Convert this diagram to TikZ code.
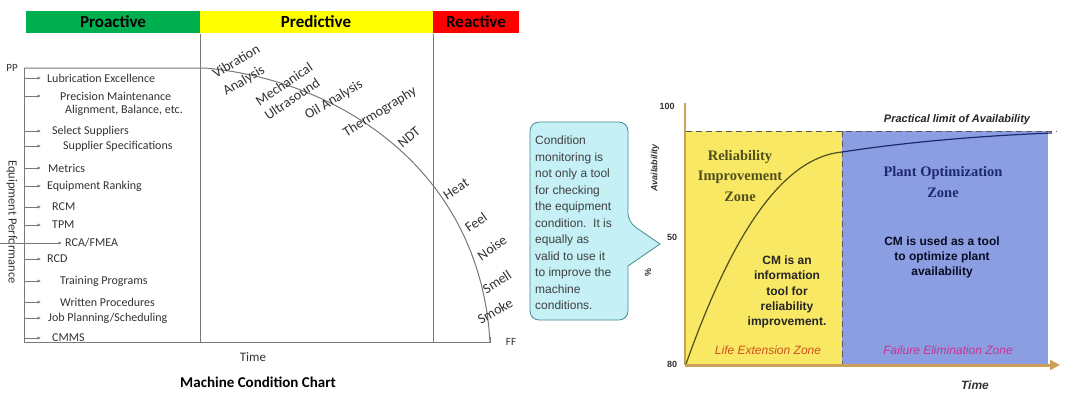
\documentclass[tikz,border=0pt]{standalone}
\usepackage{fontspec}
\setmainfont{Liberation Sans}
\newfontfamily\calfont{Carlito}
\newfontfamily\tnrfont{Liberation Serif}
\usetikzlibrary{arrows.meta}
\definecolor{pgreen}{RGB}{0,176,80}
\definecolor{pyellow}{RGB}{255,255,0}
\definecolor{pred}{RGB}{255,0,0}
\definecolor{lgray}{RGB}{120,120,120}
\definecolor{txtgray}{RGB}{50,50,50}
\definecolor{zyellow}{RGB}{248,232,100}
\definecolor{zblue}{RGB}{140,158,226}
\definecolor{axbrown}{RGB}{205,160,90}
\definecolor{cfill}{RGB}{196,240,246}
\definecolor{cborder}{RGB}{70,140,150}
\definecolor{olivec}{RGB}{80,80,30}
\definecolor{navyc}{RGB}{30,40,110}
\definecolor{lifec}{RGB}{210,80,30}
\definecolor{failc}{RGB}{200,50,150}
\begin{document}
\begin{tikzpicture}[x=1pt,y=-1pt,
  hdr/.style={font=\calfont\bfseries\fontsize{17}{17}\selectfont, inner sep=0pt},
  item/.style={font=\calfont\fontsize{12}{12}\selectfont, text=txtgray, anchor=west, inner sep=0pt},
  tech/.style={font=\calfont\fontsize{14}{14}\selectfont, text=txtgray, inner sep=0pt},
  gline/.style={draw=lgray, line width=1pt},
  itemarrow/.style={draw=lgray, line width=0.9pt, -{Latex[length=3.5pt,width=3.5pt]}},
  ylab/.style={font=\bfseries\fontsize{9}{9}\selectfont, text=txtgray, inner sep=0pt},
  zdash/.style={draw=black!65, line width=1pt, dash pattern=on 6pt off 4pt}
]
\useasboundingbox (0,0) rectangle (1067,392);

% ---------- left chart ----------
\fill[pgreen] (26,11) rectangle (200,33);
\fill[pyellow] (200,11) rectangle (433,33);
\fill[pred] (433,11) rectangle (519,33);
\node[hdr] (pro) at (113,22) {Proactive};
\node[hdr] (pre) at (316,22) {Predictive};
\node[hdr] (rea) at (476,22) {Reactive};

\coordinate (pp) at (24,68);
\coordinate (o1) at (24,342);
\coordinate (ff) at (490,342);
\coordinate (cs) at (205,68);
\draw[gline] (200,34) -- (200,342);
\draw[gline] (433,34) -- (433,342);
\draw[gline] (pp) -- (o1) -- (ff) -- ++(0,-5);
\draw[gline] (pp) -- (cs) .. controls (340,80) and (480,170) .. (ff);

\node[font=\calfont\fontsize{11}{11}\selectfont, text=txtgray] (ppl) at (12,68) {PP};
\node[font=\calfont\fontsize{11}{11}\selectfont, text=txtgray] (ffl) at (511,342) {FF};
\node[font=\calfont\fontsize{12.5}{12.5}\selectfont, text=txtgray, rotate=-90] (eqp) at (12,222) {Equipment Performance};

\foreach \i/\y/\x/\t in {1/78/47/Lubrication Excellence, 2/96/60/Precision Maintenance, 3/131/52/Select Suppliers, 4/146/63/Supplier Specifications, 5/168/48/Metrics, 6/186/47/Equipment Ranking, 7/207/52/RCM, 8/225/52/TPM, 10/259/47/RCD, 11/281/60/Training Programs, 12/302/60/Written Procedures, 13/318/48/{Job Planning/Scheduling}, 14/338/52/CMMS}{
  \coordinate (s\i) at (24,\y);
  \coordinate (e\i) at (41,\y);
  \draw[itemarrow] (s\i) -- (e\i);
  \node[item] (t\i) at (\x,\y) {\t};
}
\node[item] (t2b) at (65,110) {Alignment, Balance, etc.};
\coordinate (s9) at (0,243);
\coordinate (e9) at (62,243);
\draw[itemarrow] (s9) -- (e9);
\node[item] (t9) at (65,243) {RCA/FMEA};

\node[tech, rotate=31] (vib) at (236,61) {Vibration};
\node[tech, rotate=31] (ana) at (244,81) {Analysis};
\node[tech, rotate=34] (mec) at (284,84) {Mechanical};
\node[tech, rotate=34] (ult) at (292,99) {Ultrasound};
\node[tech, rotate=31] (oil) at (334,100) {Oil Analysis};
\node[tech, rotate=32] (the) at (380,112) {Thermography};
\node[tech, rotate=40] (ndt) at (409,137) {NDT};
\node[tech, rotate=33] (hea) at (456,189) {Heat};
\node[tech, rotate=35] (fee) at (476,222) {Feel};
\node[tech, rotate=35] (noi) at (492,248) {Noise};
\node[tech, rotate=33] (sme) at (497,282) {Smell};
\node[tech, rotate=30] (smo) at (495,311) {Smoke};

\node[font=\calfont\fontsize{13}{13}\selectfont, text=txtgray] (tim) at (253,357) {Time};
\node[font=\calfont\bfseries\fontsize{15}{15}\selectfont] (mcc) at (258,382) {Machine Condition Chart};

% ---------- right chart ----------
\path[draw=cborder, fill=cfill, line width=0.8pt, rounded corners=9pt]
  (530,122) -- (628,122) -- (628,222) [sharp corners] -- (660,244) -- (628,266) [rounded corners=9pt] -- (628,320) -- (530,320) -- cycle;
\node[anchor=north west, align=left, inner sep=0pt, text=black!75, font=\fontsize{12}{16.5}\selectfont] (note) at (535,136)
  {Condition\\monitoring is\\not only a tool\\for checking\\the equipment\\condition.\ \ It is\\equally as\\valid to use it\\to improve the\\machine\\conditions.};

\fill[zyellow] (686,131) rectangle (842,365);
\fill[zblue] (842,131) rectangle (1048,365);
\draw[zdash] (686,131) -- (1057,131);
\draw[zdash] (842,131) -- (842,365);

\coordinate (ya) at (685,103);
\coordinate (o2) at (685,365);
\coordinate (xe) at (1060,365);
\draw[axbrown, line width=2.5pt] (ya) -- (o2);
\draw[axbrown, line width=3pt, -{Triangle[length=10pt,width=10pt]}] (o2) -- (xe);

\coordinate (c0) at (686,364);
\coordinate (cm) at (842,152);
\coordinate (cl) at (1052,133);
\draw[olivec, line width=1.2pt] (c0) .. controls (730,240) and (780,158) .. (cm);
\draw[navyc, line width=1.2pt] (cm) .. controls (920,140) and (1000,135) .. (cl);

\node[ylab] (y100) at (667,106) {100};
\node[ylab] (y50) at (672,237) {50};
\node[ylab] (y80) at (672,364) {80};
\node[ylab, font=\bfseries\itshape\fontsize{9}{9}\selectfont, rotate=90] (avl) at (655,168) {Availability};
\node[ylab, rotate=90] (pct) at (648,272) {\%};

\node[font=\bfseries\itshape\fontsize{11}{11}\selectfont, text=black!85] (plim) at (957,120) {Practical limit of Availability};
\node[font=\tnrfont\bfseries\fontsize{14.5}{20.5}\selectfont, text=olivec, align=center] (riz) at (740,176) {Reliability\\Improvement\\Zone};
\node[font=\tnrfont\bfseries\fontsize{14.5}{20.5}\selectfont, text=navyc, align=center] (poz) at (943,182) {Plant Optimization\\Zone};
\node[font=\bfseries\fontsize{12}{15.3}\selectfont, align=center, text=black!85] (cm1) at (787,292) {CM is an\\information\\tool for\\reliability\\improvement.};
\node[font=\bfseries\fontsize{12}{15}\selectfont, align=center, text=black!70!navyc] (cm2) at (942,257) {CM is used as a tool\\to optimize plant\\availability};
\node[font=\itshape\fontsize{12}{12}\selectfont, text=lifec] (lez) at (768,350) {Life Extension Zone};
\node[font=\itshape\fontsize{12}{12}\selectfont, text=failc] (fez) at (948,350) {Failure Elimination Zone};
\node[font=\bfseries\itshape\fontsize{12}{12}\selectfont, text=black!80] (tim2) at (975,385) {Time};
\end{tikzpicture}
\end{document}
